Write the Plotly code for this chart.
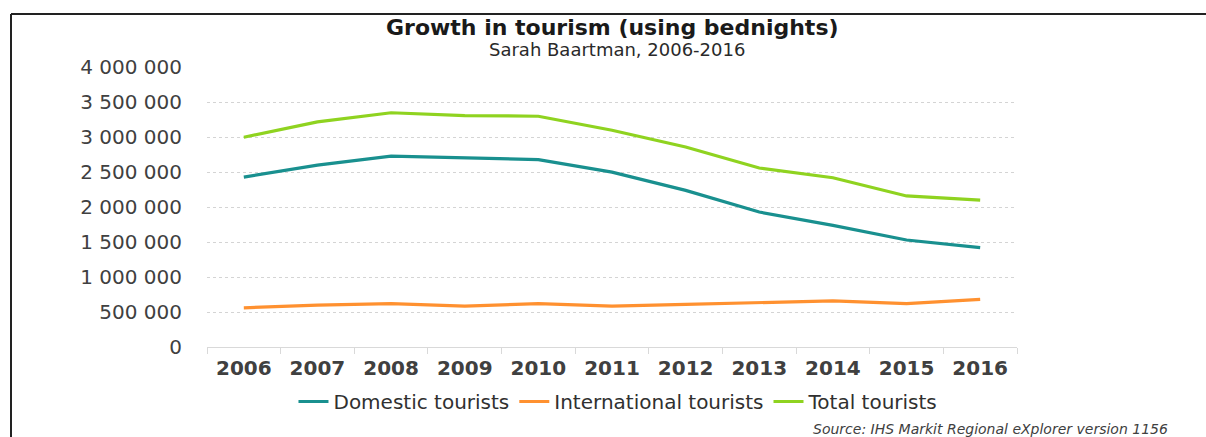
import plotly.graph_objects as go

# Bednights by tourist type, Sarah Baartman district
years = ["2006", "2007", "2008", "2009", "2010", "2011",
         "2012", "2013", "2014", "2015", "2016"]
domestic = [2430000, 2600000, 2730000, 2700000, 2680000, 2500000,
            2240000, 1930000, 1740000, 1530000, 1420000]
international = [560000, 600000, 620000, 585000, 620000, 585000,
                 610000, 630000, 660000, 620000, 680000]
total = [3000000, 3220000, 3350000, 3310000, 3300000, 3100000,
         2860000, 2560000, 2420000, 2160000, 2100000]

series_names = ["Domestic tourists", "International tourists", "Total tourists"]
series_colors = ["#19908f", "#ff9130", "#8fd320"]

title_text = "Growth in tourism (using bednights)"
subtitle_text = "Sarah Baartman, 2006-2016"
source_text = "Source: IHS Markit Regional eXplorer version 1156"

FONT = "DejaVu Sans"
TEXT_COLOR = "#404040"

fig = go.Figure()
for name, values, color in zip(series_names, [domestic, international, total], series_colors):
    fig.add_trace(go.Scatter(
        x=years, y=values, name=name, mode="lines",
        line=dict(color=color, width=3.2),
    ))

fig.update_layout(
    width=1206, height=437,
    margin=dict(l=207, r=189, t=67, b=90),
    paper_bgcolor="white", plot_bgcolor="white",
    separators=". ",
    font=dict(family=FONT, color=TEXT_COLOR),
    showlegend=True,
    legend=dict(
        orientation="h", x=0.508, xanchor="center", y=-0.125, yanchor="top",
        font=dict(family=FONT, size=20, color="#303030"),
        itemwidth=30, tracegroupgap=0,
    ),
)

fig.update_yaxes(
    range=[0, 4004000], tickvals=[i * 500000 for i in range(9)], tickformat=",d",
    showgrid=True, gridcolor="#d4d4d4", griddash="dot", gridwidth=1,
    zeroline=False, showline=False, ticks="",
    ticklabelstandoff=24,
    tickfont=dict(family=FONT, size=20, color=TEXT_COLOR),
)
fig.update_xaxes(
    type="category", range=[-0.5, 10.5],
    showgrid=False, zeroline=False,
    showline=True, linecolor="#d9d9d9", linewidth=1,
    ticks="outside", tickson="boundaries", ticklen=6, tickcolor="#d9d9d9",
    ticklabelstandoff=3,
    tickfont=dict(family=FONT, size=20, color=TEXT_COLOR, weight="bold"),
)

# Title block
fig.add_annotation(
    text=title_text, xref="paper", yref="paper",
    x=(612 - 207) / 810, y=(347 - 27) / 280, xanchor="center", yanchor="middle",
    showarrow=False, font=dict(family=FONT, size=22, color="#1a1a1a", weight="bold"),
)
fig.add_annotation(
    text=subtitle_text, xref="paper", yref="paper",
    x=(617 - 207) / 810, y=(347 - 49) / 280, xanchor="center", yanchor="middle",
    showarrow=False, font=dict(family=FONT, size=18, color="#2a2a2a"),
)
fig.add_annotation(
    text=source_text, xref="paper", yref="paper",
    x=(1170 - 207) / 810, y=(347 - 439) / 280, xanchor="right", yanchor="bottom",
    showarrow=False, font=dict(family=FONT, size=14, color=TEXT_COLOR, style="italic"),
)

# Frame lines along the top and left of the panel
px = lambda v: (v - 207) / 810
py = lambda v: (347 - v) / 280
fig.add_shape(type="line", xref="paper", yref="paper",
              x0=px(11), x1=px(1206), y0=py(14), y1=py(14),
              line=dict(color="#222222", width=2))
fig.add_shape(type="line", xref="paper", yref="paper",
              x0=px(11), x1=px(11), y0=py(14), y1=py(437),
              line=dict(color="#222222", width=2))

fig.write_html("out.html")
